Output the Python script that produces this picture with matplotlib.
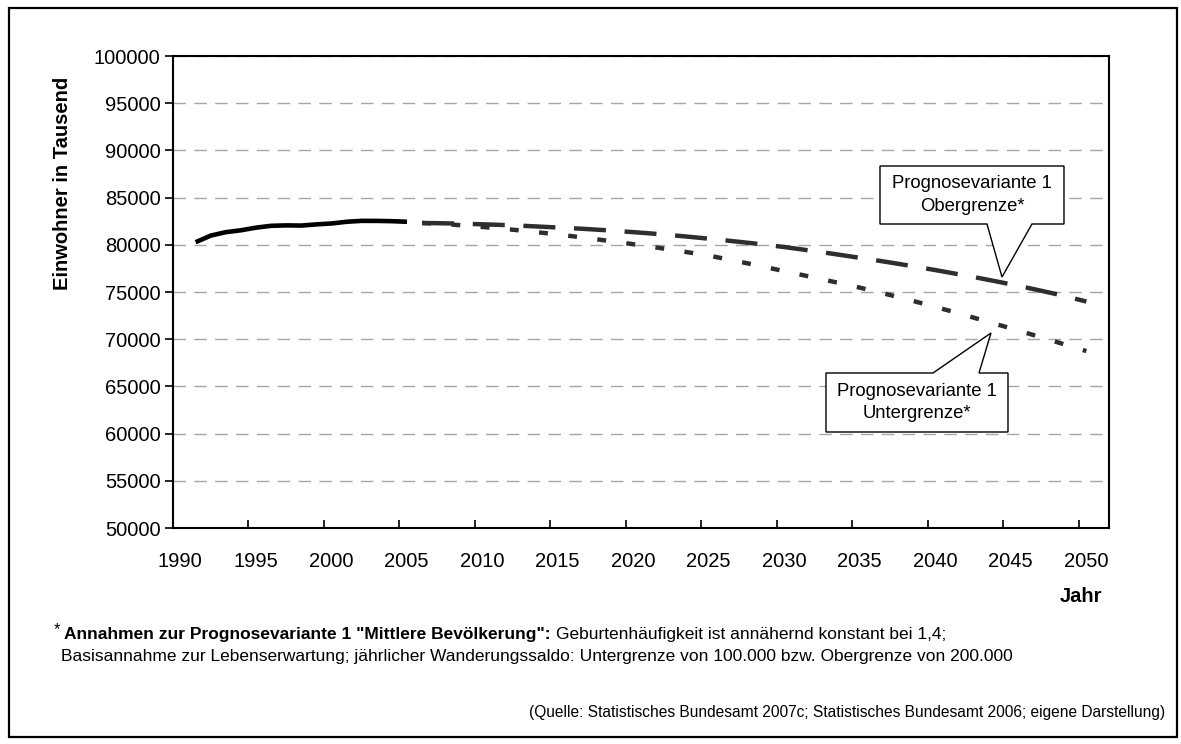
import matplotlib.pyplot as plt
from matplotlib.patches import Polygon, Rectangle
from matplotlib.transforms import ScaledTranslation

plt.rcParams["font.family"] = ["Liberation Sans", "DejaVu Sans"]

# Bevölkerung Deutschland in Tausend
hist_years = list(range(1991, 2006))
hist_pop = [80275, 80975, 81338, 81539, 81817, 82012, 82057, 82037,
            82163, 82260, 82440, 82537, 82532, 82501, 82438]

proj_years = list(range(2006, 2051))
# Prognosevariante 1, Obergrenze (Wanderungssaldo 200.000)
upper_pop = [82310, 82290, 82260, 82220, 82170, 82120, 82060, 81990, 81910, 81830,
             81750, 81660, 81560, 81450, 81340, 81220, 81090, 80950, 80800, 80645,
             80485, 80315, 80140, 79955, 79760, 79545, 79325, 79095, 78860, 78620,
             78375, 78125, 77865, 77595, 77320, 77035, 76745, 76445, 76135, 75815,
             75480, 75135, 74780, 74395, 73990]
# Prognosevariante 1, Untergrenze (Wanderungssaldo 100.000)
lower_pop = [82310, 82230, 82140, 82020, 81890, 81750, 81600, 81440, 81270, 81090,
             80900, 80700, 80490, 80280, 80060, 79830, 79600, 79360, 79110, 78850,
             78540, 78220, 77890, 77550, 77200, 76860, 76520, 76170, 75820, 75460,
             75070, 74680, 74270, 73850, 73420, 72980, 72530, 72070, 71610, 71150,
             70680, 70200, 69720, 69230, 68740]

x_ticks = list(range(1990, 2051, 5))
y_ticks = list(range(50000, 100001, 5000))

W, H = 1181, 744
fig = plt.figure(figsize=(W / 100, H / 100), dpi=100)


def fx(px):
    return px / W


def fy(py):
    return 1 - py / H


# outer frame
fig.patches.append(Rectangle((fx(9), fy(737)), fx(1177) - fx(9), fy(8) - fy(737),
                             transform=fig.transFigure, fill=False,
                             edgecolor="black", linewidth=1.6))

ax = fig.add_axes([fx(173), fy(528), fx(1109) - fx(173), fy(56) - fy(528)])

# values are mid-year, so shift by half a year
ax.plot([y + 0.5 for y in hist_years], hist_pop, color="black", lw=3.3,
        solid_capstyle="butt", zorder=3)
ax.plot([y + 0.5 for y in proj_years], lower_pop, color="#2e2e2e", lw=3.2,
        linestyle=(0, (2.0, 4.6)), dash_capstyle="butt", zorder=3)
ax.plot([y + 0.5 for y in proj_years], upper_pop, color="#2e2e2e", lw=3.2,
        linestyle=(0, (7.2, 4.2)), dash_capstyle="butt", zorder=4)

ax.set_xlim(1990, 2052)
ax.set_ylim(50000, 100000)
ax.set_xticks(x_ticks)
ax.set_xticklabels([str(t) for t in x_ticks], fontsize=14.5)
ax.set_yticks(y_ticks)
ax.set_yticklabels([str(t) for t in y_ticks], fontsize=14.5)
ax.tick_params(axis="x", direction="in", length=6, width=1.2, pad=17)
ax.tick_params(axis="y", direction="out", length=6, width=1.2, pad=3)
shift = ScaledTranslation(7 / 100, 0, fig.dpi_scale_trans)
for lab in ax.get_xticklabels():
    lab.set_transform(lab.get_transform() + shift)
for sp in ax.spines.values():
    sp.set_linewidth(1.5)
ax.yaxis.grid(True, color="#a6a6a6", lw=1.0, linestyle=(0, (9, 6)))
ax.set_axisbelow(True)

fig.text(fx(63), fy(183), "Einwohner in Tausend", rotation=90, ha="center",
         va="center", fontsize=14.5, fontweight="bold")
fig.text(fx(1081), fy(596), "Jahr", ha="center", va="center",
         fontsize=14.5, fontweight="bold")


# callout boxes with a pointer
def px2data(px, py):
    return 1990 + (px - 173) / 15.097, 100000 - (py - 56) * 50000 / 472


def callout(box, base, tip, lines, below):
    x0, y0, x1, y1 = box  # pixel box (left, top, right, bottom)
    b0, b1 = base
    if below:
        pts = [(x0, y0), (x1, y0), (x1, y1), (b1, y1), tip, (b0, y1), (x0, y1)]
    else:
        pts = [(x0, y1), (x1, y1), (x1, y0), (b1, y0), tip, (b0, y0), (x0, y0)]
    poly = Polygon([px2data(*p) for p in pts], closed=True, facecolor="white",
                   edgecolor="black", lw=1.0, zorder=6, clip_on=False)
    ax.add_patch(poly)
    cx = (x0 + x1) / 2
    cy = (y0 + y1) / 2
    fig.text(fx(cx), fy(cy), "\n".join(lines), ha="center", va="center",
             fontsize=13.3, linespacing=1.45, zorder=7)


callout((880, 166, 1064, 224), (987, 1032), (1002, 277),
        ["Prognosevariante 1", "Obergrenze*"], below=True)
callout((826, 373, 1008, 432), (933, 979), (991, 333),
        ["Prognosevariante 1", "Untergrenze*"], below=False)

# footnote
fig.text(fx(54), fy(630), "*", ha="left", va="center", fontsize=12)
bold = fig.text(fx(64), fy(634),
                "Annahmen zur Prognosevariante 1 \"Mittlere Bevölkerung\":",
                ha="left", va="center", fontsize=12.5, fontweight="bold")
fig.canvas.draw()
bb = bold.get_window_extent(fig.canvas.get_renderer())
fig.text(bb.x1 / W + fx(5), fy(634),
         "Geburtenhäufigkeit ist annähernd konstant bei 1,4;",
         ha="left", va="center", fontsize=12.5)
fig.text(fx(61), fy(657),
         "Basisannahme zur Lebenserwartung; jährlicher Wanderungssaldo: "
         "Untergrenze von 100.000 bzw. Obergrenze von 200.000",
         ha="left", va="center", fontsize=12.5)
fig.text(fx(1165), fy(712),
         "(Quelle: Statistisches Bundesamt 2007c; Statistisches Bundesamt 2006; "
         "eigene Darstellung)",
         ha="right", va="center", fontsize=11.2)

fig.savefig("out.png", dpi=100)
